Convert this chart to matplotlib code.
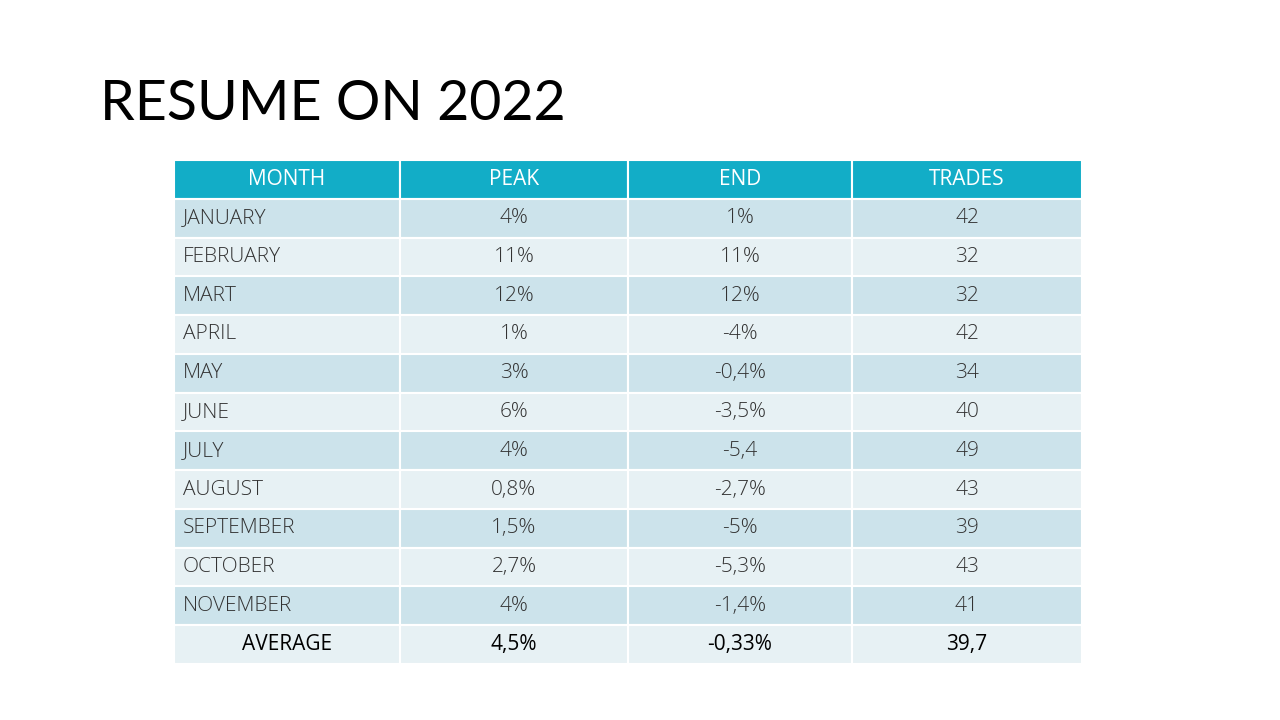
import matplotlib
matplotlib.use("Agg")
import matplotlib.pyplot as plt
from matplotlib.patches import Rectangle

title = "RESUME ON 2022"
columns = ["MONTH", "PEAK", "END", "TRADES"]
months = ["JANUARY", "FEBRUARY", "MART", "APRIL", "MAY", "JUNE", "JULY",
          "AUGUST", "SEPTEMBER", "OCTOBER", "NOVEMBER"]
peak = ["4%", "11%", "12%", "1%", "3%", "6%", "4%", "0,8%", "1,5%", "2,7%", "4%"]
end = ["1%", "11%", "12%", "-4%", "-0,4%", "-3,5%", "-5,4", "-2,7%", "-5%", "-5,3%", "-1,4%"]
trades = ["42", "32", "32", "42", "34", "40", "49", "43", "39", "43", "41"]
average = ["AVERAGE", "4,5%", "-0,33%", "39,7"]

fig = plt.figure(figsize=(12.8, 7.2), dpi=100)
ax = fig.add_axes([0, 0, 1, 1])
ax.set_xlim(0, 1280)
ax.set_ylim(720, 0)
ax.axis("off")

ax.text(100, 105, title, fontsize=40, family="Lato", va="center", ha="left", color="black")

col_edges = [174, 400, 628, 852, 1082]
top, bottom = 160, 664
rows = [columns] + [[m, p, e, t] for m, p, e, t in zip(months, peak, end, trades)] + [average]
rh = (bottom - top) / len(rows)
header_c, odd_c, even_c = "#12ADC7", "#CCE3EB", "#E7F1F4"

for r, row in enumerate(rows):
    y0 = top + r * rh
    if r == 0:
        fc = header_c
    else:
        fc = odd_c if r % 2 == 1 else even_c
    for c in range(4):
        x0, x1 = col_edges[c], col_edges[c + 1]
        ax.add_patch(Rectangle((x0, y0), x1 - x0, rh, facecolor=fc, edgecolor="white", lw=1.5))
        txt = row[c]
        if r == 0:
            color, weight = "white", "normal"
        elif r == len(rows) - 1:
            color, weight = "black", "normal"
        else:
            color, weight = "#333333", "light"
        if c == 0 and 0 < r < len(rows) - 1:
            ax.text(x0 + 9, y0 + rh / 2, txt, ha="left", va="center", fontsize=15,
                    family="Open Sans", fontweight=weight, color=color)
        else:
            ax.text((x0 + x1) / 2, y0 + rh / 2, txt, ha="center", va="center", fontsize=15,
                    family="Open Sans", fontweight=weight, color=color)

fig.savefig("out.png", dpi=100, facecolor="white")
